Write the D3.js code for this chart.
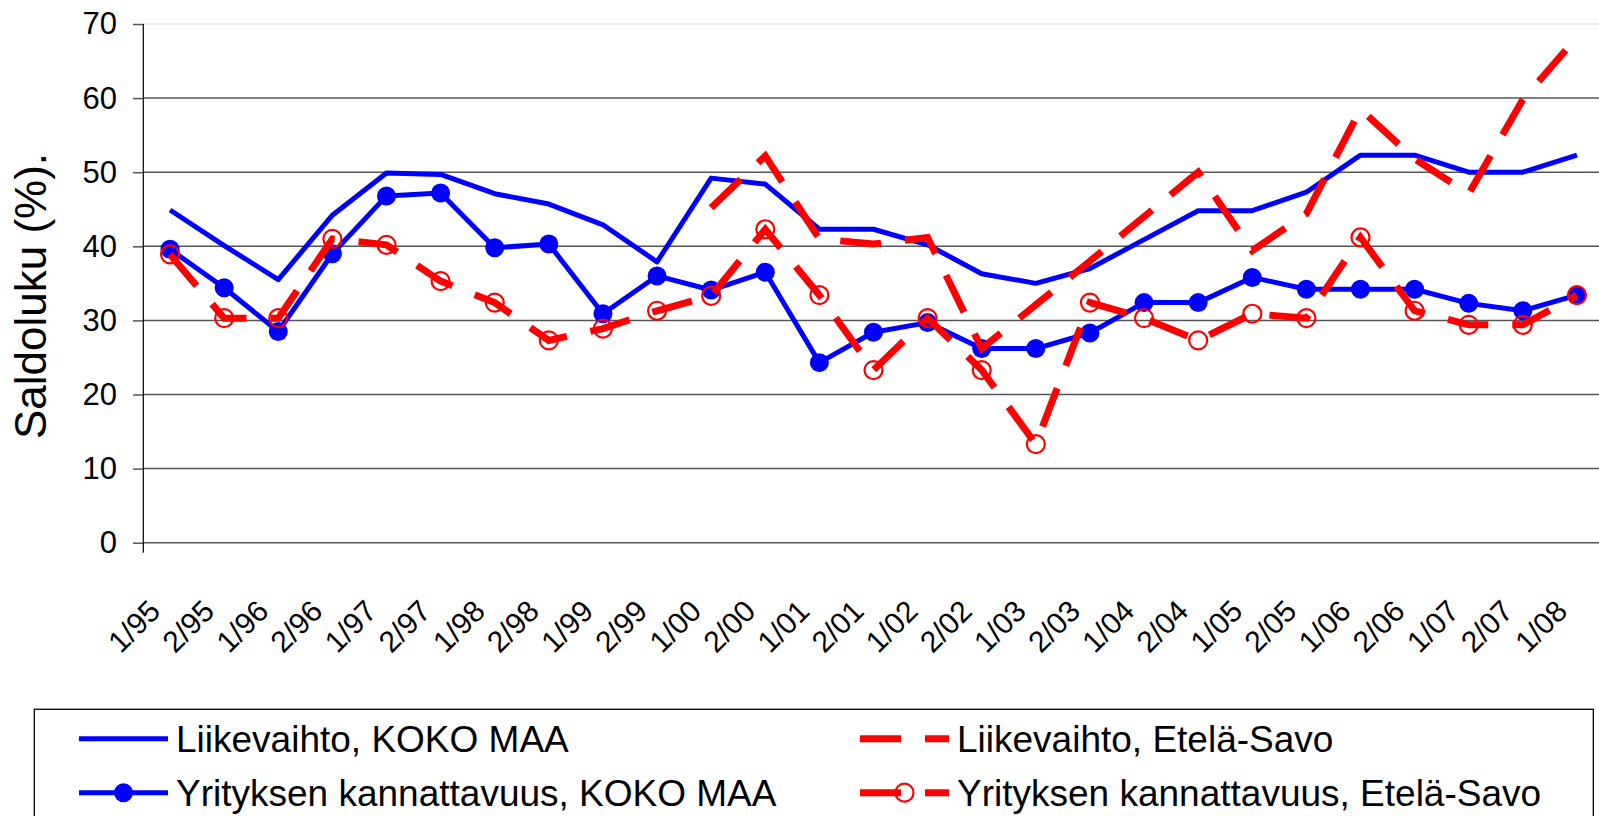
<!DOCTYPE html>
<html>
<head>
<meta charset="utf-8">
<script src="https://cdnjs.cloudflare.com/ajax/libs/d3/7.8.5/d3.min.js"></script>
<style>
  body { margin: 0; background: #fff; overflow: hidden; }
  text { font-family: "Liberation Sans", Arial, sans-serif; fill: #000; }
</style>
</head>
<body>
<svg id="chart" width="1599" height="816"></svg>
<script>
// categories (half years)
var categories = ["1/95","2/95","1/96","2/96","1/97","2/97","1/98","2/98","1/99","2/99",
                  "1/00","2/00","1/01","2/01","1/02","2/02","1/03","2/03","1/04","2/04",
                  "1/05","2/05","1/06","2/06","1/07","2/07","1/08"];

var liikevaihtoKoko = [44.9, 40.1, 35.5, 44.2, 49.9, 49.7, 47.1, 45.7, 42.9, 37.9,
                       49.2, 48.4, 42.3, 42.3, 40.2, 36.3, 35.0, 37.0, 40.9, 44.8,
                       44.8, 47.3, 52.3, 52.3, 50.0, 50.0, 52.3];

var kannattavuusKoko = [39.6, 34.4, 28.5, 39.0, 46.8, 47.2, 39.8, 40.3, 30.9, 36.0,
                        34.1, 36.5, 24.3, 28.4, 29.7, 26.2, 26.2, 28.3, 32.4, 32.4,
                        35.8, 34.2, 34.2, 34.2, 32.3, 31.3, 33.4];

// Etelä-Savo turnover starts from 1/00
var liikevaihtoES = [null, null, null, null, null, null, null, null, null, null,
                     45.2, 52.2, 41.0, 40.3, 41.2, 26.2, 32.1, 38.0, 44.0, 50.0,
                     39.4, 44.4, 58.5, 51.8, 47.1, 59.8, 68.2];

var kannattavuusES = [38.9, 30.3, 30.3, 41.0, 40.2, 35.3, 32.4, 27.3, 28.9, 31.3,
                      33.3, 42.3, 33.4, 23.3, 30.3, 23.3, 13.3, 32.4, 30.3, 27.3,
                      30.9, 30.3, 41.2, 31.3, 29.4, 29.4, 33.4];

var yTicks = [0, 10, 20, 30, 40, 50, 60, 70];

var seriesNames = ["Liikevaihto, KOKO MAA", "Yrityksen kannattavuus, KOKO MAA",
                   "Liikevaihto, Etelä-Savo", "Yrityksen kannattavuus, Etelä-Savo"];

var svg = d3.select("#chart");

var x = d3.scalePoint().domain(categories).range([143, 1604]).padding(0.5);
var y = d3.scaleLinear().domain([0, 70]).range([542.7, 24]);

var BLUE = "#0000ff", RED = "#ff0000";
var DASH = "41,24";

// gridlines
svg.append("g").selectAll("line")
    .data(yTicks)
    .enter().append("line")
    .attr("x1", 143).attr("x2", 1599)
    .attr("y1", function(d) { return y(d); })
    .attr("y2", function(d) { return y(d); })
    .attr("stroke", function(d) { return d == 70 ? "#e6e6e6" : "#555"; })
    .attr("stroke-width", 1.5);

// y axis
var yAxis = svg.append("g")
    .attr("transform", "translate(143,0)")
    .call(d3.axisLeft(y).tickValues(yTicks).tickSize(10).tickPadding(16).tickFormat(d3.format("d")));
yAxis.select(".domain").remove();
yAxis.selectAll(".tick line").attr("stroke", "#555").attr("stroke-width", 1.5);
yAxis.selectAll("text")
    .style("font-size", "31px")
    .style("font-family", "'Liberation Sans', Arial, sans-serif")
    .attr("fill", "#000");

svg.append("line")
    .attr("x1", 143.3).attr("x2", 143.3)
    .attr("y1", 24).attr("y2", 552.7)
    .attr("stroke", "#000").attr("stroke-width", 1.2);

svg.append("text")
    .attr("transform", "translate(46,296) rotate(-90)")
    .attr("text-anchor", "middle")
    .style("font-size", "44px")
    .text("Saldoluku (%).");

// x labels, rotated
svg.append("g").selectAll("text")
    .data(categories)
    .enter().append("text")
    .attr("transform", function(d) { return "translate(" + (x(d) - 8) + ",613) rotate(-45)"; })
    .attr("text-anchor", "end")
    .style("font-size", "30px")
    .text(function(d) { return d; });

function lineFor(values) {
    return d3.line()
        .defined(function(d) { return d != null; })
        .x(function(d, i) { return x(categories[i]); })
        .y(function(d) { return y(d); })(values);
}

svg.append("path").attr("d", lineFor(liikevaihtoKoko))
    .attr("fill", "none").attr("stroke", BLUE).attr("stroke-width", 5)
    .attr("stroke-linejoin", "round");

svg.append("path").attr("d", lineFor(kannattavuusKoko))
    .attr("fill", "none").attr("stroke", BLUE).attr("stroke-width", 5)
    .attr("stroke-linejoin", "round");
svg.append("g").selectAll("circle")
    .data(kannattavuusKoko)
    .enter().append("circle")
    .attr("cx", function(d, i) { return x(categories[i]); })
    .attr("cy", function(d) { return y(d); })
    .attr("r", 9.5)
    .attr("fill", BLUE);

svg.append("path").attr("d", lineFor(liikevaihtoES))
    .attr("fill", "none").attr("stroke", RED).attr("stroke-width", 7)
    .attr("stroke-dasharray", DASH);

svg.append("path").attr("d", lineFor(kannattavuusES))
    .attr("fill", "none").attr("stroke", RED).attr("stroke-width", 7)
    .attr("stroke-dasharray", DASH);
svg.append("g").selectAll("circle")
    .data(kannattavuusES)
    .enter().append("circle")
    .attr("cx", function(d, i) { return x(categories[i]); })
    .attr("cy", function(d) { return y(d); })
    .attr("r", 9)
    .attr("fill", "none")
    .attr("stroke", RED).attr("stroke-width", 2.2);

// legend
var legend = svg.append("g");
legend.append("rect")
    .attr("x", 34.3).attr("y", 709.3)
    .attr("width", 1559).attr("height", 140)
    .attr("fill", "none").attr("stroke", "#000").attr("stroke-width", 1.3);

var legendItems = [
    {name: seriesNames[0], col: 0, row: 0, color: BLUE, dash: null, marker: null},
    {name: seriesNames[1], col: 0, row: 1, color: BLUE, dash: null, marker: "dot"},
    {name: seriesNames[2], col: 1, row: 0, color: RED, dash: DASH, marker: null},
    {name: seriesNames[3], col: 1, row: 1, color: RED, dash: DASH, marker: "ring"}
];
var colX = [79, 860];
var rowY = [738.7, 792.7];

legendItems.forEach(function(it) {
    var x0 = colX[it.col], yy = rowY[it.row];
    var ln = legend.append("line")
        .attr("x1", x0).attr("x2", x0 + 89)
        .attr("y1", yy).attr("y2", yy)
        .attr("stroke", it.color)
        .attr("stroke-width", it.dash ? 7 : 5);
    if (it.dash) ln.attr("stroke-dasharray", DASH);
    if (it.marker == "dot") {
        legend.append("circle").attr("cx", x0 + 44.5).attr("cy", yy).attr("r", 9.5).attr("fill", it.color);
    }
    if (it.marker == "ring") {
        legend.append("circle").attr("cx", x0 + 44.5).attr("cy", yy).attr("r", 9)
            .attr("fill", "none").attr("stroke", it.color).attr("stroke-width", 2.2);
    }
    legend.append("text")
        .attr("x", x0 + 97).attr("y", yy)
        .attr("dy", "0.36em")
        .style("font-size", "37px")
        .text(it.name);
});
</script>
</body>
</html>
